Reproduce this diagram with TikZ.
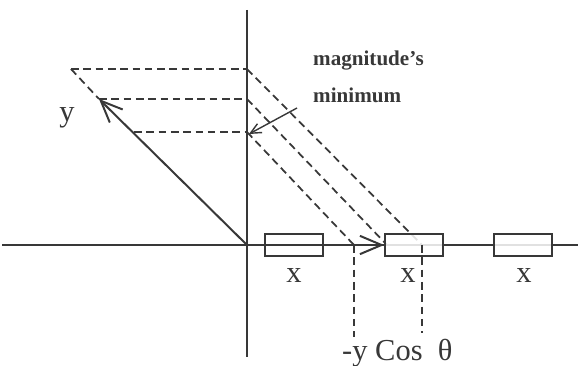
\documentclass[tikz,border=0pt]{standalone}
\usepackage{fontspec}
\setmainfont{Liberation Serif}
\usetikzlibrary{arrows.meta,positioning}
\definecolor{ink}{gray}{0.22}
\tikzset{
  axis/.style = {draw=ink, line width=1.6pt},
  proj/.style = {draw=ink, line width=1.5pt, dash pattern=on 6.5pt off 4pt},
  cell/.style = {draw=ink, line width=1.5pt, fill=white, fill opacity=0.85,
                 inner sep=0pt, minimum width=1.74cm, minimum height=0.68cm},
  vec/.style  = {draw=ink, line width=1.7pt, -{Straight Barb[length=6.5mm,width=5.5mm,line width=1.7pt]}},
  hint/.style = {draw=ink, line width=1.2pt, -{Straight Barb[length=3.2mm,width=3mm]}},
  lbl/.style  = {text=ink, inner sep=0pt, font=\fontsize{26}{28}\selectfont},
  note/.style = {text=ink, inner sep=0pt, align=left, font=\fontsize{18}{31.5}\selectfont\bfseries}
}

\begin{document}
\begin{tikzpicture}[x=0.03cm, y=-0.03cm]
  \useasboundingbox (0,0) rectangle (579,366);
  % axes
  \coordinate (O) at (247,245);
  \coordinate (xl) at (2,245);
  \coordinate (xr) at (578,245);
  \coordinate (yt) at (247,10);
  \coordinate (yb) at (247,357);
  \draw[axis] (xl) -- (xr);
  \draw[axis] (yt) -- (yb);
  % points on the y axis and on the vector
  \coordinate (tip) at (99,99);
  \coordinate (ext) at (71,69);
  \coordinate (m3)  at (134,132);
  \coordinate (a1)  at (247,69);
  \coordinate (a2)  at (247,99);
  \coordinate (a3)  at (247,132);
  \coordinate (p1)  at (354,245);
  \coordinate (p2)  at (387,245);
  \coordinate (p3)  at (422,245);
  \coordinate (q1)  at (354,337);
  \coordinate (q3)  at (422,333);
  % projections
  \draw[proj] (ext) -- (a1);
  \draw[proj] (tip) -- (a2);
  \draw[proj] (m3) -- (a3);
  \draw[proj] (ext) -- (tip);
  \draw[proj] (a1) -- (p3);
  \draw[proj] (a2) -- (p2);
  \draw[proj] (a3) -- (p1);
  \draw[proj] (p1) -- (q1);
  % cells
  \node[cell] (b1) at (294,245) {};
  \node[cell] (b2) at (414,245) {};
  \node[cell] (b3) at (523,245) {};
  \draw[proj] (p3) -- (q3);
  % vectors
  \draw[vec] (O) -- (tip);
  \draw[vec] (O) -- (b2.west);
  \coordinate (n0) at (297,108);
  \coordinate (n1) at (249,134);
  \draw[hint] (n0) -- (n1);
  % labels
  \node[lbl, anchor=base] (ly) at (67,121) {y};
  \node[lbl, anchor=base] (x1) at (294,282) {x};
  \node[lbl, anchor=base] (x2) at (408,282) {x};
  \node[lbl, anchor=base] (x3) at (524,282) {x};
  \node[lbl, anchor=base west] (cy) at (342,360) {-y Cos\ \ θ};
  \node[note, anchor=north west] (mm) at (313,51) {magnitude's\\minimum};
\end{tikzpicture}
\end{document}
